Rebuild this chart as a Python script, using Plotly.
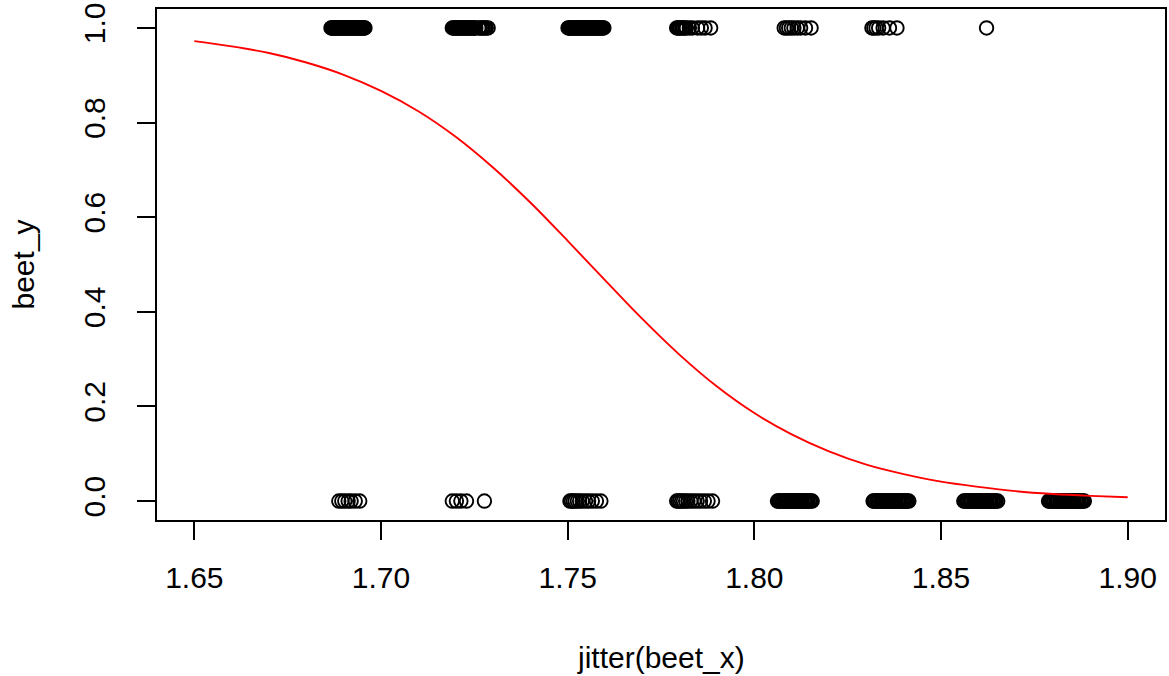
import plotly.graph_objects as go

# Jittered heights (x) of the observations with outcome 1 (top row)
x_top = [
    # cluster near 1.69
    1.6866, 1.6868, 1.6871, 1.6874, 1.6876, 1.6879, 1.6882, 1.6885, 1.6887, 1.6890,
    1.6893, 1.6895, 1.6898, 1.6901, 1.6904, 1.6906, 1.6909, 1.6912, 1.6914, 1.6917,
    1.6920, 1.6923, 1.6925, 1.6928, 1.6931, 1.6933, 1.6936, 1.6939, 1.6942, 1.6944,
    1.6947, 1.6950, 1.6952, 1.6955, 1.6957,
    # cluster near 1.72
    1.7191, 1.7194, 1.7197, 1.7200, 1.7203, 1.7206, 1.7209, 1.7212, 1.7215, 1.7218,
    1.7221, 1.7224, 1.7227, 1.7230, 1.7233, 1.7236, 1.7239, 1.7242, 1.7245, 1.7248,
    1.7251, 1.7254, 1.7262, 1.7266, 1.7270, 1.7274, 1.7278, 1.7282, 1.7287,
    # cluster near 1.755
    1.7501, 1.7504, 1.7507, 1.7509, 1.7512, 1.7515, 1.7518, 1.7521, 1.7523, 1.7526,
    1.7529, 1.7532, 1.7535, 1.7537, 1.7540, 1.7543, 1.7546, 1.7549, 1.7551, 1.7554,
    1.7557, 1.7560, 1.7563, 1.7565, 1.7568, 1.7571, 1.7574, 1.7577, 1.7579, 1.7582,
    1.7585, 1.7588, 1.7591, 1.7594, 1.7597,
    # cluster near 1.78
    1.7792, 1.7795, 1.7799, 1.7802, 1.7806, 1.7810, 1.7814, 1.7818, 1.7826, 1.7834,
    1.7848, 1.7858, 1.7868, 1.7883,
    # cluster near 1.81
    1.8080, 1.8086, 1.8092, 1.8099, 1.8106, 1.8115, 1.8124, 1.8137, 1.8152,
    # cluster near 1.835
    1.8315, 1.8320, 1.8326, 1.8333, 1.8345, 1.8362, 1.8382,
    # single point
    1.8622,
]
# Jittered heights (x) of the observations with outcome 0 (bottom row)
x_bottom = [
    1.6887, 1.6895, 1.6903, 1.6912, 1.6920, 1.6931, 1.6943,
    1.7191, 1.7202, 1.7214, 1.7229, 1.7277,
    1.7506, 1.7510, 1.7515, 1.7520, 1.7526, 1.7532, 1.7539, 1.7548, 1.7556, 1.7566,
    1.7577, 1.7589,
    1.7792, 1.7796, 1.7800, 1.7805, 1.7810, 1.7816, 1.7822, 1.7830, 1.7838, 1.7847,
    1.7856, 1.7866, 1.7876, 1.7888,
    1.8062, 1.8065, 1.8068, 1.8071, 1.8075, 1.8078, 1.8081, 1.8084, 1.8087, 1.8090,
    1.8094, 1.8097, 1.8100, 1.8103, 1.8106, 1.8109, 1.8113, 1.8116, 1.8119, 1.8122,
    1.8125, 1.8128, 1.8132, 1.8135, 1.8138, 1.8141, 1.8144, 1.8148, 1.8151, 1.8155,
    1.8318, 1.8321, 1.8324, 1.8328, 1.8331, 1.8334, 1.8338, 1.8341, 1.8344, 1.8347,
    1.8351, 1.8354, 1.8357, 1.8361, 1.8364, 1.8367, 1.8371, 1.8374, 1.8377, 1.8380,
    1.8384, 1.8387, 1.8390, 1.8394, 1.8397, 1.8400, 1.8404, 1.8407, 1.8410, 1.8414,
    1.8561, 1.8564, 1.8568, 1.8571, 1.8574, 1.8578, 1.8581, 1.8584, 1.8588, 1.8591,
    1.8594, 1.8598, 1.8601, 1.8604, 1.8608, 1.8611, 1.8614, 1.8618, 1.8621, 1.8624,
    1.8628, 1.8631, 1.8634, 1.8638, 1.8641, 1.8645, 1.8648, 1.8652,
    1.8788, 1.8791, 1.8794, 1.8798, 1.8801, 1.8804, 1.8808, 1.8811, 1.8814, 1.8818,
    1.8821, 1.8824, 1.8827, 1.8831, 1.8834, 1.8837, 1.8841, 1.8844, 1.8847, 1.8851,
    1.8854, 1.8857, 1.8861, 1.8864, 1.8867, 1.8870, 1.8874, 1.8877, 1.8880, 1.8884,
]
y_top = [1] * len(x_top)
y_bottom = [0] * len(x_bottom)

# Fitted probability curve
curve_x = [1.65, 1.66, 1.67, 1.68, 1.69, 1.70, 1.71, 1.72, 1.73, 1.74, 1.75, 1.76, 1.77,
           1.78, 1.79, 1.80, 1.81, 1.82, 1.83, 1.84, 1.85, 1.86, 1.87, 1.88, 1.89, 1.90]
curve_y = [0.972, 0.961, 0.947, 0.927, 0.901, 0.867, 0.824, 0.770, 0.705, 0.631, 0.550,
           0.467, 0.385, 0.309, 0.242, 0.186, 0.141, 0.105, 0.077, 0.057, 0.041, 0.030,
           0.021, 0.015, 0.011, 0.008]

x_ticks = [1.65, 1.70, 1.75, 1.80, 1.85, 1.90]
x_tick_labels = ["1.65", "1.70", "1.75", "1.80", "1.85", "1.90"]
y_ticks = [0.0, 0.2, 0.4, 0.6, 0.8, 1.0]
y_tick_labels = ["0.0", "0.2", "0.4", "0.6", "0.8", "1.0"]

FONT = "Liberation Sans, Arial, sans-serif"
LW = 1.9

fig = go.Figure()
marker = dict(symbol="circle-open", size=13.5, color="black", line=dict(width=LW, color="black"))
fig.add_trace(go.Scatter(x=x_top + x_bottom, y=y_top + y_bottom, mode="markers",
                         marker=marker, showlegend=False, hoverinfo="x+y"))
fig.add_trace(go.Scatter(x=curve_x, y=curve_y, mode="lines", line=dict(color="red", width=LW, shape="spline"),
                         showlegend=False))

fig.update_layout(
    width=1169, height=676,
    margin=dict(l=157, r=2, t=9, b=156),
    paper_bgcolor="white", plot_bgcolor="white",
    font=dict(family=FONT, size=30, color="black"),
    xaxis=dict(range=[1.64, 1.91], tickmode="array", tickvals=x_ticks, ticktext=x_tick_labels,
               showgrid=False, zeroline=False, showline=True, linecolor="black", linewidth=LW,
               mirror=True, ticks="outside", ticklen=18, tickwidth=LW, tickcolor="black",
               ticklabelstandoff=12),
    yaxis=dict(range=[-0.04, 1.04], tickmode="array", tickvals=y_ticks, ticktext=y_tick_labels,
               showgrid=False, zeroline=False, showline=True, linecolor="black", linewidth=LW,
               mirror=True, ticks="outside", ticklen=18, tickwidth=LW, tickcolor="black",
               tickangle=-90, ticklabelstandoff=20),
    annotations=[
        dict(text="jitter(beet_x)", xref="paper", yref="paper", x=0.5, y=0, yshift=-137,
             showarrow=False, xanchor="center", yanchor="middle", font=dict(size=30)),
        dict(text="beet_y", xref="paper", yref="paper", x=0, y=0.5, xshift=-134,
             showarrow=False, xanchor="center", yanchor="middle", textangle=-90, font=dict(size=30)),
    ],
)

fig.write_html("out.html", config={"displayModeBar": False},
               post_script="document.body.style.margin='0px';document.body.style.overflow='hidden';")
